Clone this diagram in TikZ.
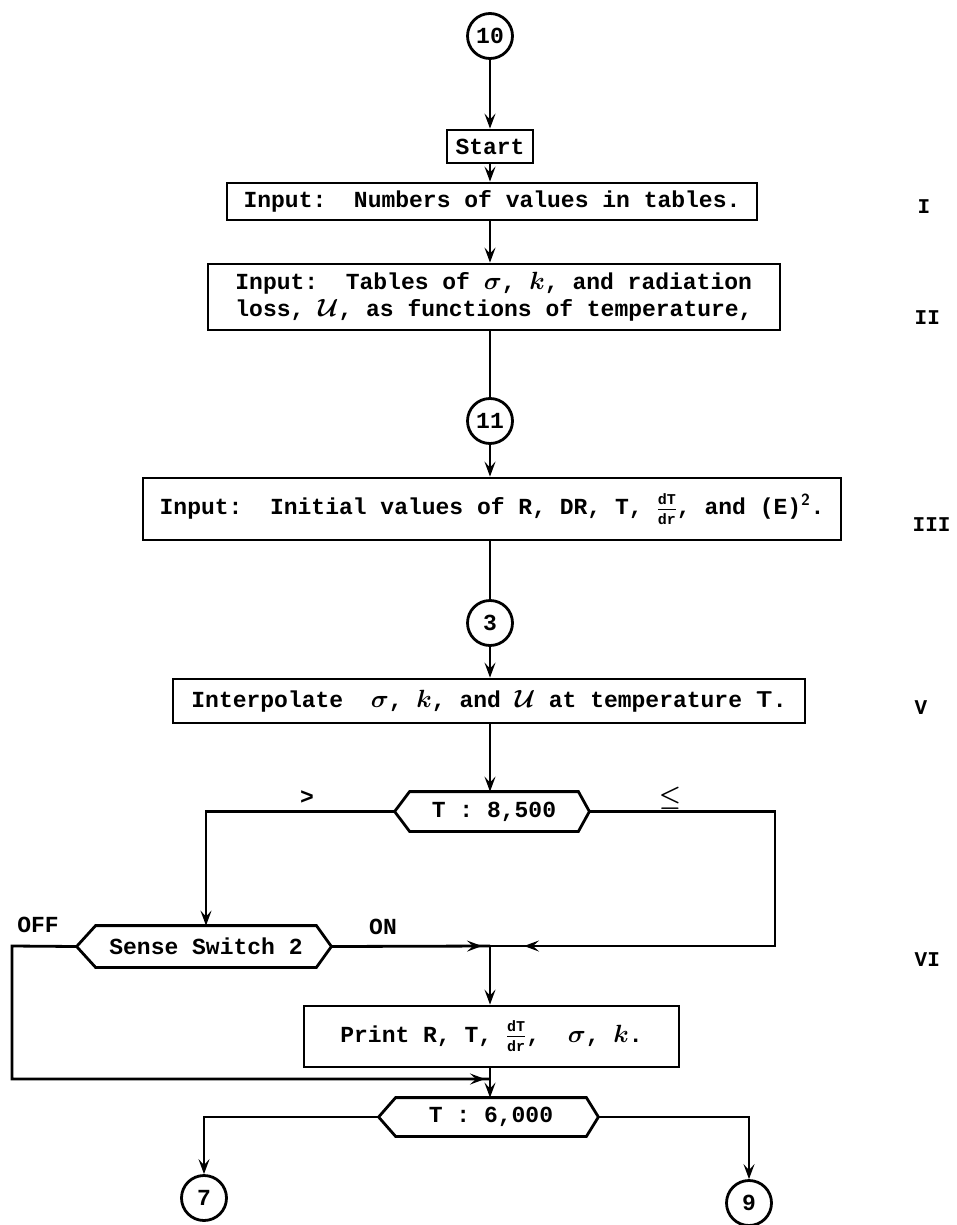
\documentclass[tikz,border=0pt]{standalone}
\usepackage{fontspec}
\setmonofont{Liberation Mono}
\usetikzlibrary{arrows.meta,decorations.markings,calc}
\newcommand\fracfont{\fontsize{15}{15}\selectfont\ttfamily\bfseries}
\newcommand\dTdr{${\hbox{\fracfont dT}\over\hbox{\fracfont dr}}$}
\newcommand\hexaround[3]{\draw (#1.north west) -- (#1.north east) -- ([shift={(#3,0)}]#1.east) -- (#1.south east) -- (#1.south west) -- ([shift={(-#2,0)}]#1.west) -- cycle;}
\tikzset{
  tt/.style={font=\fontsize{23}{27}\selectfont\ttfamily\bfseries\boldmath},
  box/.style={draw, rectangle, tt, inner sep=0pt, align=center},
  conn/.style={draw, circle, tt, inner sep=0pt, minimum size=45pt},
  dec/.style={tt, inner sep=0pt},
  arr/.style={-{Stealth[length=15pt,width=11pt,inset=6pt]}},
  midarr/.style={postaction={decorate,decoration={markings,mark=at position #1 with {\arrow{Stealth[length=15pt,width=11pt,inset=6pt]}}}}},
  lab/.style={font=\fontsize{21}{25}\selectfont\ttfamily\bfseries, anchor=west},
}
\begin{document}
\begin{tikzpicture}[x=1pt,y=-1pt,line width=2.8pt]
\fill[white] (0,0) rectangle (957,1225);
\useasboundingbox (0,0) rectangle (957,1225);

% nodes
\node[conn] (c10) at (490,36) {10};
\node[box, minimum width=86pt, minimum height=33pt] (start) at (490,146.5) {Start};
\node[box, minimum width=530pt, minimum height=37pt] (in1) at (492,201.5) {Input:~ Numbers of values in tables.};
\node[box, minimum width=572pt, minimum height=66pt, align=left] (in2) at (494,297) {Input:~ Tables of $\sigma$, $k$, and radiation\\loss, $\mathcal{U}$, as functions of temperature,};
\node[conn] (c11) at (490,421) {11};
\node[box, minimum width=698pt, minimum height=62pt] (in3) at (492,509) {Input:~ Initial values of R, DR, T, \dTdr, and (E)$^{\mathsf{2}}$.};
\node[conn] (c3) at (490,623) {3};
\node[box, minimum width=632pt, minimum height=44pt] (interp) at (489,701) {Interpolate~ $\sigma$, $k$, and $\mathcal{U}$ at temperature $\mathsf{T}$.};
\node[dec, minimum width=166pt, minimum height=37pt] (d1) at (494,811.5) {\raisebox{-4pt}{T : 8,500}};
\node[dec, minimum width=218pt, minimum height=39pt] (ss) at (206,946.5) {\raisebox{-7pt}{Sense Switch 2}};
\coordinate (j1) at (490,946);
\node[box, minimum width=375pt, minimum height=61pt] (print) at (491.5,1036.5) {Print R, T, \dTdr, ~$\sigma$, $k$.};
\coordinate (j2) at (490,1079);
\node[dec, minimum width=188pt, minimum height=36pt] (d2) at (491,1117) {\raisebox{-5pt}{T : 6,000}};
\node[conn] (c7) at (204,1198) {7};
\node[conn] (c9) at (749,1203) {9};

\hexaround{d1}{15}{11}
\hexaround{ss}{19}{15}
\hexaround{d2}{17}{12}

% labels
\node[tt] (gt) at (307,798) {>};
\node[tt] (le) at (670,798) {$\le$};
\node[tt] (off) at (38,925) {OFF};
\node[tt] (on) at (383,927) {ON};
\node[lab] (rI) at (913,207) {I};
\node[lab] (rII) at (910,318) {II};
\node[lab] (rIII) at (908,525) {III};
\node[lab] (rV) at (910,708) {V};
\node[lab] (rVI) at (910,960) {VI};

% connectors
\draw[arr] (c10.south) -- (c10.south |- start.north);
\draw[arr] (start.south) -- (start.south |- in1.north);
\draw[arr] (start.south |- in1.south) -- (start.south |- in2.north);
\draw (c11.north |- in2.south) -- (c11.north);
\draw[arr] (c11.south) -- (c11.south |- in3.north);
\draw (c3.north |- in3.south) -- (c3.north);
\draw[arr] (c3.south) -- (c3.south |- interp.north);
\draw[arr] (c3.south |- interp.south) -- (c3.south |- d1.north);
\draw[arr] ([shift={(-15,0)}]d1.west) -| (ss.north);
\draw[midarr=-34pt] ([shift={(11,0)}]d1.east) -| (775,946) -- (j1);
\draw[midarr=-8pt] ([shift={(15,0)}]ss.east) -- (j1);
\draw[arr] (j1) -- (j1 |- print.north);
\draw[midarr=-5pt] ([shift={(-19,0)}]ss.west) -- (12,946) |- (j2);
\draw[arr] (j1 |- print.south) -- (j1 |- d2.north);
\draw[arr] ([shift={(-17,0)}]d2.west) -| (c7.north);
\draw[arr] ([shift={(12,0)}]d2.east) -| (c9.north);
\end{tikzpicture}
\end{document}
